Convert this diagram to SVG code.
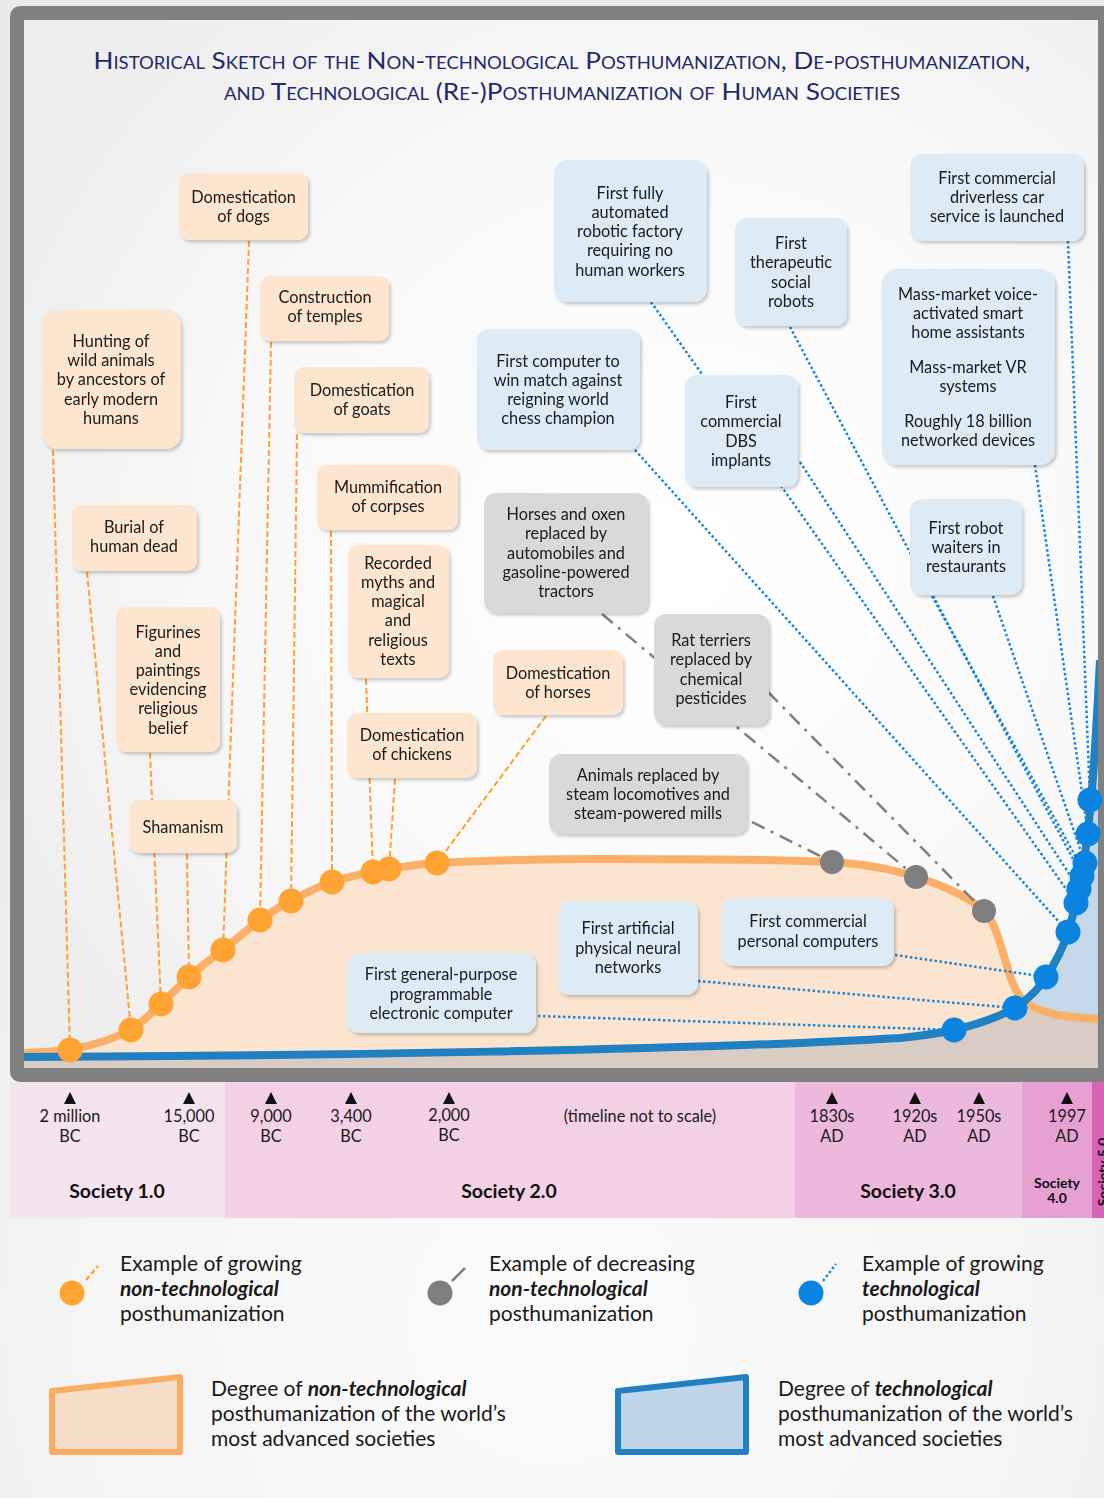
<svg xmlns="http://www.w3.org/2000/svg" width="1104" height="1498" viewBox="0 0 1104 1498">
<defs>
<radialGradient id="pageBg" cx="552" cy="1320" r="760" gradientUnits="userSpaceOnUse">
<stop offset="0" stop-color="#fbfbfb"/><stop offset="0.6" stop-color="#f5f5f5"/><stop offset="1" stop-color="#eaeaea"/>
</radialGradient>
<radialGradient id="innerBg" cx="680" cy="560" r="760" gradientUnits="userSpaceOnUse">
<stop offset="0" stop-color="#ffffff"/><stop offset="0.6" stop-color="#f8f8f8"/><stop offset="1" stop-color="#ededed"/>
</radialGradient>
<filter id="sh" x="-10%" y="-10%" width="130%" height="130%">
<feDropShadow dx="2" dy="2.5" stdDeviation="1.5" flood-color="#000" flood-opacity="0.2"/>
</filter>
<clipPath id="blueClip">
<path d="M24,1057 C300,1056 700,1050 900,1038 C930,1035 945,1032 954,1030 C980,1024 1000,1016 1015,1008 C1030,998 1040,987 1046,977 C1056,962 1063,948 1068,932 C1075,910 1080,885 1084,860 C1088,835 1090,810 1092,790 C1095,750 1098,700 1100,660 L1100,1068 L24,1068 Z"/>
</clipPath>
<clipPath id="innerClip"><rect x="24" y="20" width="1074" height="1048"/></clipPath>
<clipPath id="bandClip"><rect x="10" y="1082" width="1094" height="136"/></clipPath>
</defs>
<style>
text{font-family:Lato,"Open Sans","DejaVu Sans",sans-serif}
.t{font-size:16.3px;fill:#1a1a1a;text-anchor:middle}
.on{fill:#fde5cf}
.bn{fill:#ddebf7}
.gn{fill:#d9d9d9}
.oc{stroke:#ffa030;stroke-width:2;stroke-dasharray:6 3;fill:none}
.gc{stroke:#7f7f7f;stroke-width:2.5;stroke-dasharray:14 7 3 7;fill:none}
.bc{stroke:#1a86d8;stroke-width:2.5;stroke-dasharray:2.5 2.5;fill:none}
.od{fill:#ffa333}
.gd{fill:#7f7f7f}
.bd{fill:#0a84e0}
.tl{font-size:16.3px;fill:#1a1a1a;text-anchor:middle}
.soc{font-size:19.5px;font-weight:bold;fill:#111;text-anchor:middle}
.soc2{font-size:14px;font-weight:bold;fill:#111;text-anchor:middle}
.lg{font-size:21px;fill:#1a1a1a}
.bi{font-weight:bold;font-style:italic}
</style>

<rect x="0" y="0" width="1104" height="1498" fill="url(#pageBg)"/>

<!-- frame -->
<rect x="10" y="6" width="1104" height="1076" rx="10" fill="#808080"/>
<rect x="24" y="20" width="1074" height="1048" fill="url(#innerBg)"/>

<!-- title -->
<g id="title" fill="#1f2a6b" font-size="24" text-anchor="middle" style="font-variant:small-caps">
<text x="562" y="69" textLength="937" lengthAdjust="spacingAndGlyphs">Historical Sketch of the Non-technological Posthumanization, De-posthumanization,</text>
<text x="562" y="100" textLength="676" lengthAdjust="spacingAndGlyphs">and Technological (Re-)Posthumanization of Human Societies</text>
</g>

<!-- chart areas -->
<g id="areas" clip-path="url(#innerClip)">
<path id="orangeArea" fill="#fce5d0" d="M24,1053 C45,1052 60,1051 70,1050 C95,1045 115,1038 131,1030 C142,1023 152,1012 161,1004 C170,995 180,986 189,977 C200,967 212,958 223,950 C235,940 248,929 260,920 C270,913 280,906 291,901 C305,893 318,887 332,882 C345,878 360,874 373,872 C395,868 415,864 437,863 C480,861 520,859 600,859 C700,859 780,859 832,862 C865,864 895,870 916,877 C945,886 970,898 984,911 C1003,930 1005,980 1022,999 C1040,1015 1065,1017 1100,1019 L1100,1068 L24,1068 Z"/>
<path fill="#c5d8ea" d="M24,1057 C300,1056 700,1050 900,1038 C930,1035 945,1032 954,1030 C980,1024 1000,1016 1015,1008 C1030,998 1040,987 1046,977 C1056,962 1063,948 1068,932 C1075,910 1080,885 1084,860 C1088,835 1090,810 1092,790 C1095,750 1098,700 1100,660 L1100,1068 L24,1068 Z"/>
<path fill="#d8ccc4" clip-path="url(#blueClip)" d="M24,1053 C45,1052 60,1051 70,1050 C95,1045 115,1038 131,1030 C142,1023 152,1012 161,1004 C170,995 180,986 189,977 C200,967 212,958 223,950 C235,940 248,929 260,920 C270,913 280,906 291,901 C305,893 318,887 332,882 C345,878 360,874 373,872 C395,868 415,864 437,863 C480,861 520,859 600,859 C700,859 780,859 832,862 C865,864 895,870 916,877 C945,886 970,898 984,911 C1003,930 1005,980 1022,999 C1040,1015 1065,1017 1100,1019 L1100,1068 L24,1068 Z"/>
<path id="orangeCurve" fill="none" stroke="#fbb06a" stroke-width="8" stroke-linecap="round" d="M24,1053 C45,1052 60,1051 70,1050 C95,1045 115,1038 131,1030 C142,1023 152,1012 161,1004 C170,995 180,986 189,977 C200,967 212,958 223,950 C235,940 248,929 260,920 C270,913 280,906 291,901 C305,893 318,887 332,882 C345,878 360,874 373,872 C395,868 415,864 437,863 C480,861 520,859 600,859 C700,859 780,859 832,862 C865,864 895,870 916,877 C945,886 970,898 984,911 C1003,930 1005,980 1022,999 C1040,1015 1065,1017 1100,1019"/>
<path id="blueCurve" fill="none" stroke="#2180c2" stroke-width="8" d="M24,1057 C300,1056 700,1050 900,1038 C930,1035 945,1032 954,1030 C980,1024 1000,1016 1015,1008 C1030,998 1040,987 1046,977 C1056,962 1063,948 1068,932 C1075,910 1080,885 1084,860 C1088,835 1090,810 1092,790 C1095,750 1098,700 1100,660"/>
</g>

<!-- connectors -->
<g id="connectors">
<path class="oc" d="M53,450 L70,1050"/>
<path class="oc" d="M87,572 L131,1030"/>
<path class="oc" d="M150,753 L161,1004"/>
<path class="oc" d="M187,854 L189,977"/>
<path class="oc" d="M249,241 L223,950"/>
<path class="oc" d="M271,342 L260,920"/>
<path class="oc" d="M297,434 L291,901"/>
<path class="oc" d="M331,531 L332,882"/>
<path class="oc" d="M366,679 L373,872"/>
<path class="oc" d="M395,779 L389,869"/>
<path class="oc" d="M546,716 L437,863"/>
<path class="gc" d="M602,614 L916,877"/>
<path class="gc" d="M768,692 L984,911"/>
<path class="gc" d="M752,822 L832,862"/>
<path class="bc" d="M538,1016 L954,1030"/>
<path class="bc" d="M698,981 L1015,1008"/>
<path class="bc" d="M895,955 L1046,977"/>
<path class="bc" d="M635,450 L1068,932"/>
<path class="bc" d="M651,302 L1076,903"/>
<path class="bc" d="M800,462 L1079,889"/>
<path class="bc" d="M790,327 L1082,876"/>
<path class="bc" d="M932,596 L1083,870"/>
<path class="bc" d="M993,596 L1085,863"/>
<path class="bc" d="M1035,465 L1088,834"/>
<path class="bc" d="M1068,241 L1090,800"/>
</g>

<!-- dots -->
<g id="dots">
<circle class="od" cx="70" cy="1050" r="12.5"/>
<circle class="od" cx="131" cy="1030" r="12.5"/>
<circle class="od" cx="161" cy="1004" r="12.5"/>
<circle class="od" cx="189" cy="977" r="12.5"/>
<circle class="od" cx="223" cy="950" r="12.5"/>
<circle class="od" cx="260" cy="920" r="12.5"/>
<circle class="od" cx="291" cy="901" r="12.5"/>
<circle class="od" cx="332" cy="882" r="12.5"/>
<circle class="od" cx="373" cy="872" r="12.5"/>
<circle class="od" cx="389" cy="869" r="12.5"/>
<circle class="od" cx="437" cy="863" r="12.5"/>
<circle class="gd" cx="832" cy="862" r="12"/>
<circle class="gd" cx="916" cy="877" r="12"/>
<circle class="gd" cx="984" cy="911" r="12"/>
<circle class="bd" cx="954" cy="1030" r="12.5"/>
<circle class="bd" cx="1015" cy="1008" r="12.5"/>
<circle class="bd" cx="1046" cy="977" r="12.5"/>
<circle class="bd" cx="1068" cy="932" r="12.5"/>
<circle class="bd" cx="1076" cy="903" r="12.5"/>
<circle class="bd" cx="1079" cy="889" r="12.5"/>
<circle class="bd" cx="1082" cy="876" r="12.5"/>
<circle class="bd" cx="1085" cy="863" r="12.5"/>
<circle class="bd" cx="1088" cy="834" r="12.5"/>
<circle class="bd" cx="1090" cy="800" r="12.5"/>
</g>

<!-- orange nodes -->
<g id="n-dogs" filter="url(#sh)"><rect class="on" x="179" y="173" width="129" height="67" rx="10"/><text class="t"><tspan x="243.5" y="203">Domestication</tspan><tspan x="243.5" y="222">of dogs</tspan></text></g>
<g id="n-temples" filter="url(#sh)"><rect class="on" x="260" y="276" width="129" height="65" rx="10"/><text class="t"><tspan x="325" y="303">Construction</tspan><tspan x="325" y="322">of temples</tspan></text></g>
<g id="n-hunting" filter="url(#sh)"><rect class="on" x="42" y="310" width="139" height="139" rx="15"/><text class="t"><tspan x="111" y="347">Hunting of</tspan><tspan x="111" y="366">wild animals</tspan><tspan x="111" y="385">by ancestors of</tspan><tspan x="111" y="405">early modern</tspan><tspan x="111" y="424">humans</tspan></text></g>
<g id="n-goats" filter="url(#sh)"><rect class="on" x="294" y="367" width="135" height="66" rx="10"/><text class="t"><tspan x="362" y="396">Domestication</tspan><tspan x="362" y="415">of goats</tspan></text></g>
<g id="n-mummification" filter="url(#sh)"><rect class="on" x="317" y="465" width="141" height="65" rx="10"/><text class="t"><tspan x="388" y="493">Mummification</tspan><tspan x="388" y="512">of corpses</tspan></text></g>
<g id="n-burial" filter="url(#sh)"><rect class="on" x="72" y="505" width="125" height="66" rx="10"/><text class="t"><tspan x="134" y="533">Burial of</tspan><tspan x="134" y="552">human dead</tspan></text></g>
<g id="n-recorded" filter="url(#sh)"><rect class="on" x="348" y="545" width="101" height="133" rx="10"/><text class="t"><tspan x="398" y="569">Recorded</tspan><tspan x="398" y="588">myths and</tspan><tspan x="398" y="607">magical</tspan><tspan x="398" y="626">and</tspan><tspan x="398" y="646">religious</tspan><tspan x="398" y="665">texts</tspan></text></g>
<g id="n-figurines" filter="url(#sh)"><rect class="on" x="116" y="607" width="104" height="145" rx="10"/><text class="t"><tspan x="168" y="638">Figurines</tspan><tspan x="168" y="657">and</tspan><tspan x="168" y="676">paintings</tspan><tspan x="168" y="695">evidencing</tspan><tspan x="168" y="714">religious</tspan><tspan x="168" y="734">belief</tspan></text></g>
<g id="n-horses" filter="url(#sh)"><rect class="on" x="493" y="650" width="130" height="65" rx="10"/><text class="t"><tspan x="558" y="679">Domestication</tspan><tspan x="558" y="698">of horses</tspan></text></g>
<g id="n-chickens" filter="url(#sh)"><rect class="on" x="347" y="713" width="130" height="65" rx="10"/><text class="t"><tspan x="412" y="741">Domestication</tspan><tspan x="412" y="760">of chickens</tspan></text></g>
<g id="n-shamanism" filter="url(#sh)"><rect class="on" x="129" y="800" width="108" height="53" rx="10"/><text class="t"><tspan x="183" y="833">Shamanism</tspan></text></g>

<!-- gray nodes -->
<g id="n-oxen" filter="url(#sh)"><rect class="gn" x="484" y="493" width="164" height="120" rx="12"/><text class="t"><tspan x="566" y="520">Horses and oxen</tspan><tspan x="566" y="539">replaced by</tspan><tspan x="566" y="559">automobiles and</tspan><tspan x="566" y="578">gasoline-powered</tspan><tspan x="566" y="597">tractors</tspan></text></g>
<g id="n-rats" filter="url(#sh)"><rect class="gn" x="654" y="614" width="115" height="111" rx="12"/><text class="t"><tspan x="711" y="646">Rat terriers</tspan><tspan x="711" y="665">replaced by</tspan><tspan x="711" y="685">chemical</tspan><tspan x="711" y="704">pesticides</tspan></text></g>
<g id="n-steam" filter="url(#sh)"><rect class="gn" x="549" y="754" width="198" height="80" rx="12"/><text class="t"><tspan x="648" y="781">Animals replaced by</tspan><tspan x="648" y="800">steam locomotives and</tspan><tspan x="648" y="819">steam-powered mills</tspan></text></g>

<!-- blue nodes -->
<g id="n-factory" filter="url(#sh)"><rect class="bn" x="554" y="160" width="153" height="142" rx="14"/><text class="t"><tspan x="630" y="199">First fully</tspan><tspan x="630" y="218">automated</tspan><tspan x="630" y="237">robotic factory</tspan><tspan x="630" y="256">requiring no</tspan><tspan x="630" y="276">human workers</tspan></text></g>
<g id="n-therapeutic" filter="url(#sh)"><rect class="bn" x="735" y="218" width="112" height="108" rx="12"/><text class="t"><tspan x="791" y="249">First</tspan><tspan x="791" y="268">therapeutic</tspan><tspan x="791" y="288">social</tspan><tspan x="791" y="307">robots</tspan></text></g>
<g id="n-chess" filter="url(#sh)"><rect class="bn" x="477" y="329" width="163" height="121" rx="12"/><text class="t"><tspan x="558" y="367">First computer to</tspan><tspan x="558" y="386">win match against</tspan><tspan x="558" y="405">reigning world</tspan><tspan x="558" y="424">chess champion</tspan></text></g>
<g id="n-dbs" filter="url(#sh)"><rect class="bn" x="685" y="375" width="113" height="112" rx="12"/><text class="t"><tspan x="741" y="408">First</tspan><tspan x="741" y="427">commercial</tspan><tspan x="741" y="447">DBS</tspan><tspan x="741" y="466">implants</tspan></text></g>
<g id="n-driverless" filter="url(#sh)"><rect class="bn" x="910" y="154" width="174" height="87" rx="12"/><text class="t"><tspan x="997" y="184">First commercial</tspan><tspan x="997" y="203">driverless car</tspan><tspan x="997" y="222">service is launched</tspan></text></g>
<g id="n-massmarket" filter="url(#sh)"><rect class="bn" x="882" y="269" width="173" height="196" rx="15"/><text class="t"><tspan x="968" y="300">Mass-market voice-</tspan><tspan x="968" y="319">activated smart</tspan><tspan x="968" y="338">home assistants</tspan><tspan x="968" y="373">Mass-market VR</tspan><tspan x="968" y="392">systems</tspan><tspan x="968" y="427">Roughly 18 billion</tspan><tspan x="968" y="446">networked devices</tspan></text></g>
<g id="n-waiters" filter="url(#sh)"><rect class="bn" x="910" y="499" width="112" height="96" rx="12"/><text class="t"><tspan x="966" y="534">First robot</tspan><tspan x="966" y="553">waiters in</tspan><tspan x="966" y="572">restaurants</tspan></text></g>
<g id="n-neural" filter="url(#sh)"><rect class="bn" x="558" y="901" width="140" height="94" rx="12"/><text class="t"><tspan x="628" y="934">First artificial</tspan><tspan x="628" y="954">physical neural</tspan><tspan x="628" y="973">networks</tspan></text></g>
<g id="n-pcs" filter="url(#sh)"><rect class="bn" x="722" y="898" width="172" height="68" rx="12"/><text class="t"><tspan x="808" y="927">First commercial</tspan><tspan x="808" y="947">personal computers</tspan></text></g>
<g id="n-eniac" filter="url(#sh)"><rect class="bn" x="347" y="953" width="189" height="80" rx="12"/><text class="t"><tspan x="441" y="980">First general-purpose</tspan><tspan x="441" y="1000">programmable</tspan><tspan x="441" y="1019">electronic computer</tspan></text></g>

<!-- timeline band -->
<g id="timeline" clip-path="url(#bandClip)">
<rect x="10" y="1082" width="215" height="136" fill="#f5e4ef"/>
<rect x="225" y="1082" width="570" height="136" fill="#f2d1e6"/>
<rect x="795" y="1082" width="227" height="136" fill="#ecb8dd"/>
<rect x="1022" y="1082" width="70" height="136" fill="#e6a0d1"/>
<rect x="1092" y="1082" width="12" height="136" fill="#d862b4"/>
<g fill="#111">
<polygon points="64,1104 76,1104 70,1092"/>
<polygon points="183,1104 195,1104 189,1092"/>
<polygon points="265,1104 277,1104 271,1092"/>
<polygon points="345,1104 357,1104 351,1092"/>
<polygon points="443,1104 455,1104 449,1092"/>
<polygon points="826,1104 838,1104 832,1092"/>
<polygon points="909,1104 921,1104 915,1092"/>
<polygon points="973,1104 985,1104 979,1092"/>
<polygon points="1061,1104 1073,1104 1067,1092"/>
</g>
<text class="tl"><tspan x="70" y="1122">2 million</tspan><tspan x="70" y="1142">BC</tspan></text>
<text class="tl"><tspan x="189" y="1122">15,000</tspan><tspan x="189" y="1142">BC</tspan></text>
<text class="tl"><tspan x="271" y="1122">9,000</tspan><tspan x="271" y="1142">BC</tspan></text>
<text class="tl"><tspan x="351" y="1122">3,400</tspan><tspan x="351" y="1142">BC</tspan></text>
<text class="tl"><tspan x="449" y="1121">2,000</tspan><tspan x="449" y="1141">BC</tspan></text>
<text class="tl" x="640" y="1122">(timeline not to scale)</text>
<text class="tl"><tspan x="832" y="1122">1830s</tspan><tspan x="832" y="1142">AD</tspan></text>
<text class="tl"><tspan x="915" y="1122">1920s</tspan><tspan x="915" y="1142">AD</tspan></text>
<text class="tl"><tspan x="979" y="1122">1950s</tspan><tspan x="979" y="1142">AD</tspan></text>
<text class="tl"><tspan x="1067" y="1122">1997</tspan><tspan x="1067" y="1142">AD</tspan></text>
<text class="soc" x="117" y="1198">Society 1.0</text>
<text class="soc" x="509" y="1198">Society 2.0</text>
<text class="soc" x="908" y="1198">Society 3.0</text>
<text class="soc2"><tspan x="1057" y="1188">Society</tspan><tspan x="1057" y="1203">4.0</tspan></text>
<text class="soc2" transform="translate(1108,1172) rotate(-90)" x="0" y="0">Society 5.0</text>
</g>

<!-- legend -->
<g id="legend-growing-nontech">
<path d="M86,1280 L98,1266" stroke="#ffa030" stroke-width="2.5" stroke-dasharray="5 3" fill="none"/>
<circle class="od" cx="72" cy="1293" r="12.5"/>
<text class="lg"><tspan x="120" y="1271">Example of growing</tspan><tspan x="120" y="1296" class="bi">non-technological</tspan><tspan x="120" y="1321">posthumanization</tspan></text>
</g>
<g id="legend-decreasing-nontech">
<path d="M452,1281 L465,1268" stroke="#7f7f7f" stroke-width="2.5" fill="none"/>
<circle class="gd" cx="440" cy="1293" r="12.5"/>
<text class="lg"><tspan x="489" y="1271">Example of decreasing</tspan><tspan x="489" y="1296" class="bi">non-technological</tspan><tspan x="489" y="1321">posthumanization</tspan></text>
</g>
<g id="legend-growing-tech">
<path d="M823,1281 L836,1264" stroke="#1a86d8" stroke-width="2.5" stroke-dasharray="2.5 2.5" fill="none"/>
<circle class="bd" cx="811" cy="1293" r="12.5"/>
<text class="lg"><tspan x="862" y="1271">Example of growing</tspan><tspan x="862" y="1296" class="bi">technological</tspan><tspan x="862" y="1321">posthumanization</tspan></text>
</g>
<g id="legend-degree-nontech">
<polygon points="52,1391 180,1377 180,1452 52,1452" fill="#f6ddc8" stroke="#fbac63" stroke-width="6" stroke-linejoin="round"/>
<text class="lg"><tspan x="211" y="1396">Degree of <tspan class="bi">non-technological</tspan></tspan><tspan x="211" y="1421">posthumanization of the world’s</tspan><tspan x="211" y="1446">most advanced societies</tspan></text>
</g>
<g id="legend-degree-tech">
<polygon points="618,1391 746,1377 746,1452 618,1452" fill="#c0d5ea" stroke="#2180c2" stroke-width="6" stroke-linejoin="round"/>
<text class="lg"><tspan x="778" y="1396">Degree of <tspan class="bi">technological</tspan></tspan><tspan x="778" y="1421">posthumanization of the world’s</tspan><tspan x="778" y="1446">most advanced societies</tspan></text>
</g>
</svg>
